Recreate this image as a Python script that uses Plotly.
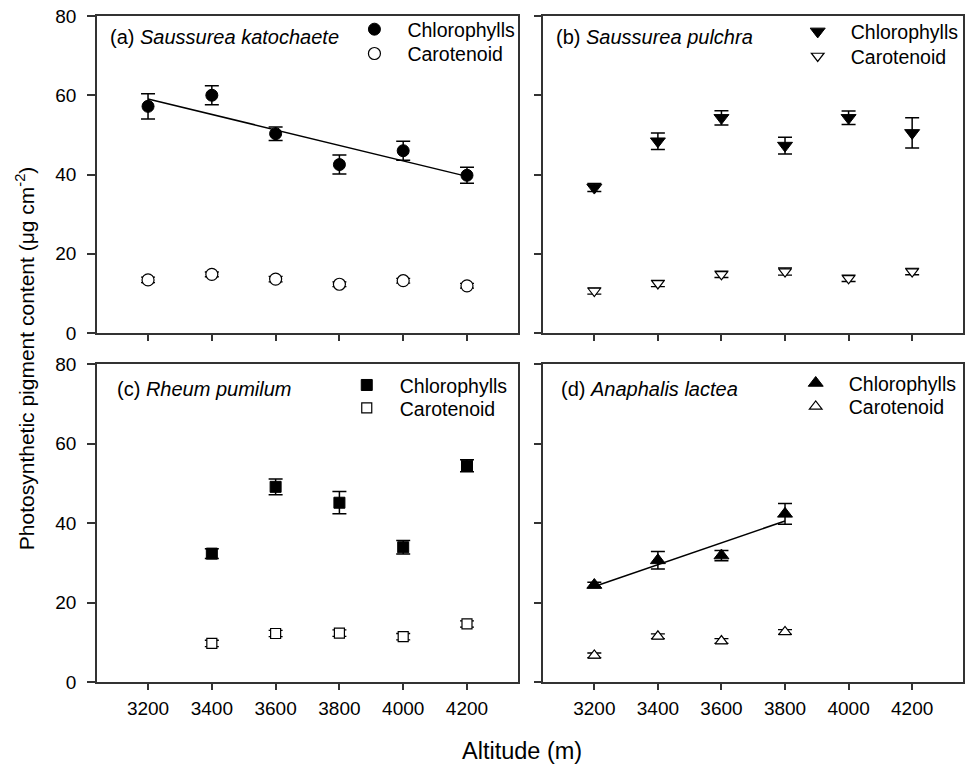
import numpy as np
import plotly.graph_objects as go

# ---------------- data ----------------
alt_a = [3200, 3400, 3600, 3800, 4000, 4200]
chl_a = [57.2, 60.0, 50.3, 42.5, 46.0, 39.8]
chl_a_se = [3.2, 2.4, 1.7, 2.4, 2.4, 2.0]
car_a = [13.4, 14.8, 13.6, 12.3, 13.2, 11.9]
car_a_se = [0.7, 0.6, 0.7, 0.6, 0.6, 0.6]

alt_b = [3200, 3400, 3600, 3800, 4000, 4200]
chl_b = [36.7, 48.4, 54.3, 47.3, 54.3, 50.5]
chl_b_se = [1.0, 2.1, 1.8, 2.1, 1.7, 3.8]
car_b = [10.6, 12.5, 14.8, 15.5, 13.8, 15.5]
car_b_se = [0.8, 0.8, 0.8, 0.9, 0.8, 0.8]

alt_c = [3400, 3600, 3800, 4000, 4200]
chl_c = [32.3, 49.1, 45.1, 33.9, 54.4]
chl_c_se = [1.2, 2.0, 2.8, 1.7, 1.5]
car_c = [9.7, 12.2, 12.3, 11.4, 14.6]
car_c_se = [0.8, 0.8, 0.8, 0.8, 0.8]

alt_d = [3200, 3400, 3600, 3800]
chl_d = [24.4, 30.6, 31.8, 42.3]
chl_d_se = [0.7, 2.2, 1.3, 2.6]
car_d = [6.7, 11.5, 10.3, 12.6]
car_d_se = [0.6, 0.6, 0.6, 0.6]

x_ticks = [3200, 3400, 3600, 3800, 4000, 4200]
y_ticks = [0, 20, 40, 60, 80]

titles = ["(a) <i>Saussurea katochaete</i>", "(b) <i>Saussurea pulchra</i>",
          "(c) <i>Rheum pumilum</i>", "(d) <i>Anaphalis lactea</i>"]

# ---------------- layout helpers ----------------
W, H = 965, 764
ML, MR, MT, MB = 97, 0, 16, 82
PW, PH = W - ML - MR, H - MT - MB
def px(x):
    return (x - ML) / PW
def py(y):
    return (H - MB - y) / PH

FONT = "Arial, Liberation Sans, Helvetica, sans-serif"
AXC = "#333333"

fig = go.Figure()

panels = [
    ("x", "y", alt_a, chl_a, chl_a_se, car_a, car_a_se, "circle", True, ("legend", "legend2")),
    ("x2", "y2", alt_b, chl_b, chl_b_se, car_b, car_b_se, "triangle-down", False, ("legend3", "legend4")),
    ("x3", "y3", alt_c, chl_c, chl_c_se, car_c, car_c_se, "square", False, ("legend5", "legend6")),
    ("x4", "y4", alt_d, chl_d, chl_d_se, car_d, car_d_se, "triangle-up", True, ("legend7", "legend8")),
]
sizes = {"circle": (12, 12), "triangle-down": (13, 11), "square": (11, 10), "triangle-up": (13, 11)}

for xa, ya, alt, chl, chl_se, car, car_se, sym, fit, legs in panels:
    s_full, s_open = sizes[sym]
    if fit:
        k, b = np.polyfit(alt, chl, 1)
        xs = np.array([alt[0], alt[-1]])
        fig.add_trace(go.Scatter(x=xs, y=k * xs + b, mode="lines", xaxis=xa, yaxis=ya,
                                 line=dict(color="black", width=1.5), showlegend=False,
                                 hoverinfo="skip"))
    fig.add_trace(go.Scatter(
        x=alt, y=car, mode="markers", name="Carotenoid", xaxis=xa, yaxis=ya, legend=legs[1],
        marker=dict(symbol=sym, size=s_open, color="white", line=dict(color="black", width=1.2)),
        error_y=dict(type="data", array=car_se, color="black", thickness=1.3, width=7)))
    fig.add_trace(go.Scatter(
        x=alt, y=chl, mode="markers", name="Chlorophylls", xaxis=xa, yaxis=ya, legend=legs[0],
        marker=dict(symbol=sym, size=s_full, color="black", line=dict(color="black", width=1)),
        error_y=dict(type="data", array=chl_se, color="black", thickness=1.5, width=7)))

# domains
xdom_l = [0, px(519)]
xdom_r = [px(544.5), 1]
ydom_t = [py(333), 1]
ydom_b = [0, py(364)]

axis_common = dict(showline=True, mirror=True, linecolor=AXC, linewidth=1.5,
                   ticks="outside", tickcolor=AXC, tickwidth=1.5, showgrid=False,
                   zeroline=False, tickfont=dict(family=FONT, size=19, color="black"))

doms = {"": (xdom_l, ydom_t), "2": (xdom_r, ydom_t), "3": (xdom_l, ydom_b), "4": (xdom_r, ydom_b)}
for sfx, (xd, yd) in doms.items():
    bottom = sfx in ("3", "4")
    left = sfx in ("", "3")
    fig.layout["xaxis" + sfx] = dict(axis_common, domain=xd, range=[3040, 4360],
                                     anchor="y" + sfx, tickvals=x_ticks, ticklen=6,
                                     showticklabels=bottom, ticklabelstandoff=2)
    fig.layout["yaxis" + sfx] = dict(axis_common, domain=yd, range=[0, 80],
                                     anchor="x" + sfx, tickvals=y_ticks, ticklen=8,
                                     showticklabels=left, ticklabelstandoff=7)

# legends (one per row)
leg_pos = {
    "legend": (342, 29.5), "legend2": (342, 53.8),
    "legend3": (786.3, 31.7), "legend4": (786.3, 56.3),
    "legend5": (334.3, 385.3), "legend6": (334.3, 408.3),
    "legend7": (784.3, 383.3), "legend8": (784.3, 406.7),
}
for name, (lx, ly) in leg_pos.items():
    fig.layout[name] = dict(x=px(lx), y=py(ly), xanchor="left", yanchor="middle",
                            xref="paper", yref="paper", bgcolor="rgba(0,0,0,0)",
                            borderwidth=0, itemwidth=56,
                            font=dict(family=FONT, size=19.5, color="black"))

# panel titles
title_pos = [(107.7, 36.7), (555, 36.7), (115, 388.5), (560, 389.3)]
for t, (tx, ty) in zip(titles, title_pos):
    fig.add_annotation(text=t, x=px(tx), y=py(ty), xref="paper", yref="paper",
                       xanchor="left", yanchor="middle", showarrow=False,
                       font=dict(family=FONT, size=20, color="black"))

# axis titles
fig.add_annotation(text="Altitude (m)", x=px(522.5), y=py(751), xref="paper", yref="paper",
                   xanchor="center", yanchor="middle", showarrow=False,
                   font=dict(family=FONT, size=23.5, color="black"))
fig.add_annotation(text="Photosynthetic pigment content (μg cm<sup>-2</sup>)",
                   x=px(25), y=py(358), xref="paper", yref="paper", textangle=-90,
                   xanchor="center", yanchor="middle", showarrow=False,
                   font=dict(family=FONT, size=21, color="black"))

fig.update_layout(width=W, height=H, margin=dict(l=ML, r=MR, t=MT, b=MB),
                  paper_bgcolor="white", plot_bgcolor="white", showlegend=True)

fig.write_html("out.html", config={"displayModeBar": False},
               post_script="document.body.style.margin='0';document.body.style.overflow='hidden';")
